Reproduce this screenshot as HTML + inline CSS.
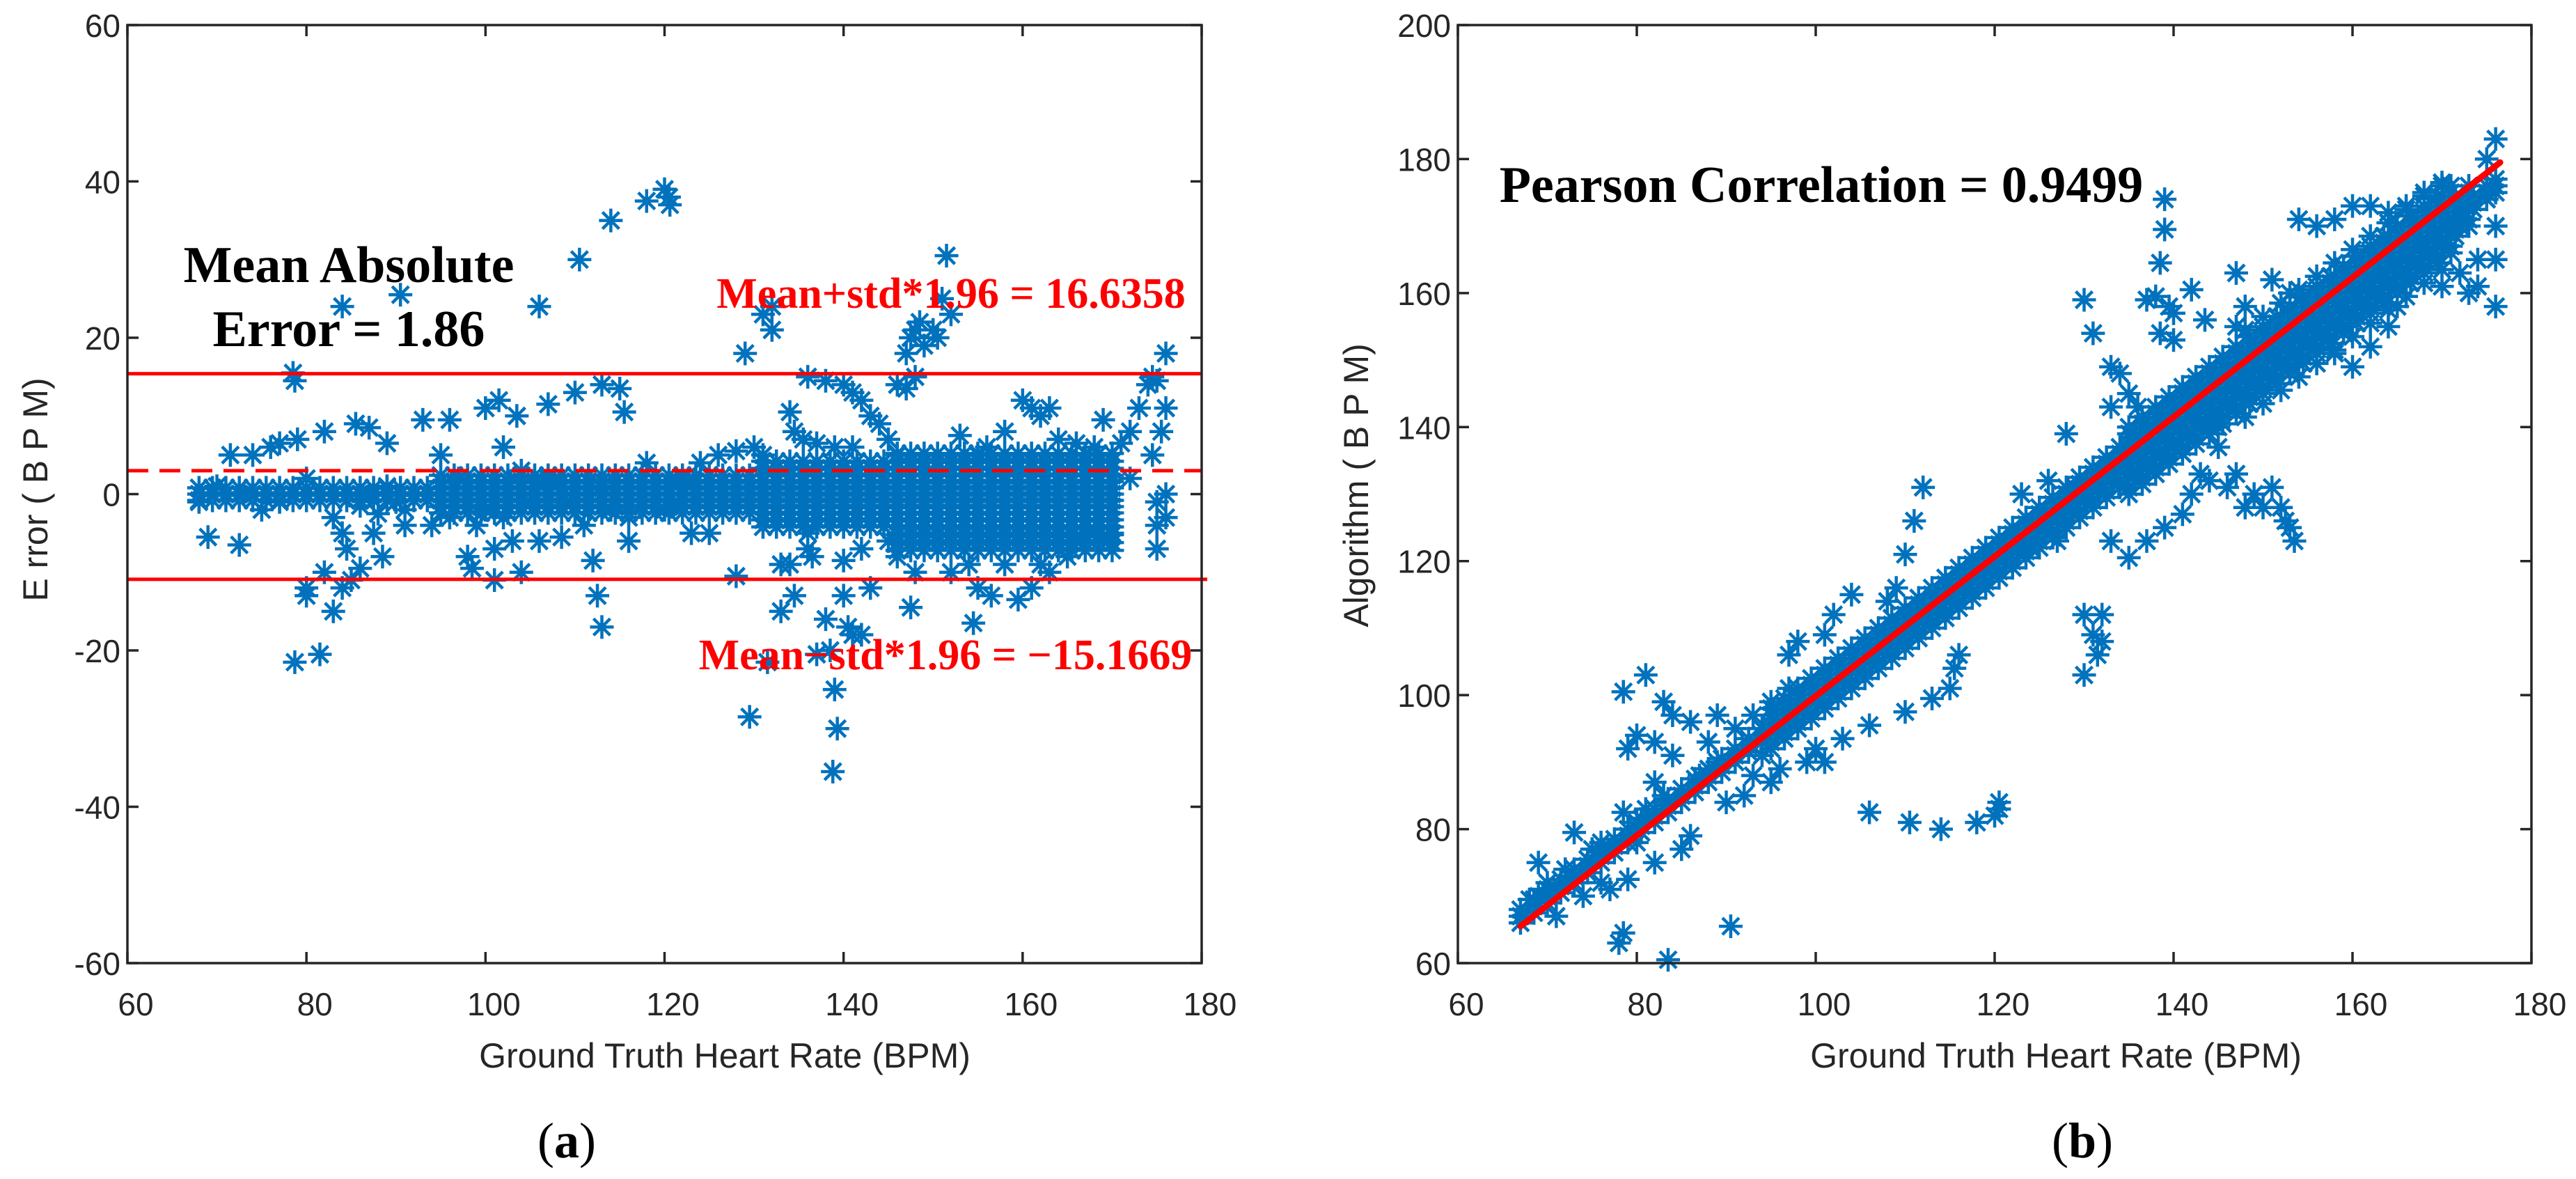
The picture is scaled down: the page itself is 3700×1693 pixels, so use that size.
<!DOCTYPE html>
<html><head><meta charset="utf-8"><style>
html,body{margin:0;padding:0;background:#fff;}
svg{display:block;}
text{font-family:"Liberation Sans",sans-serif;fill:#262626;}
.ann{font-family:"Liberation Serif",serif;font-weight:bold;fill:#000;}
</style></head><body>
<svg id="fig" width="3700" height="1693" viewBox="0 0 3700 1693" xmlns="http://www.w3.org/2000/svg">
<g id="pa"></g>
<g id="pb"></g>
<text x="1041" y="1533" font-size="50" text-anchor="middle">Ground Truth Heart Rate (BPM)</text>
<text x="2953" y="1533" font-size="50" text-anchor="middle">Ground Truth Heart Rate (BPM)</text>
<text transform="translate(68,703) rotate(-90)" font-size="50" text-anchor="middle">E rror ( B P M)</text>
<text transform="translate(1965,697) rotate(-90)" font-size="50" text-anchor="middle">Algorithm ( B P M)</text>
<text x="814" y="1662" font-size="72" text-anchor="middle" class="ann" style="font-weight:normal">(<tspan font-weight="bold">a</tspan>)</text>
<text x="2991" y="1662" font-size="72" text-anchor="middle" class="ann" style="font-weight:normal">(<tspan font-weight="bold">b</tspan>)</text>
<text x="501" y="405" font-size="74" text-anchor="middle" class="ann">Mean Absolute</text>
<text x="501" y="497" font-size="74" text-anchor="middle" class="ann">Error = 1.86</text>
<text x="2616" y="290" font-size="74" text-anchor="middle" class="ann">Pearson Correlation = 0.9499</text>
</svg>
<script>
// ---------- Panel (a) data ----------
const aXTicks = [60,80,100,120,140,160,180];
const aYTicks = [-60,-40,-20,0,20,40,60];
const aUpper = 15.4;
const aMean = 3.0;
const aLower = -10.9;
const aOutX = [120.5,120,120.6,118,114,110.5,106,90.5,84,151.5,151,152,131,132,132,129,78.5,78.7,79,77,76,71.5,74,72.5,69,68,70,73,75,77,80,82,85.5,87,89,93,96,100,101.5,103.5,107,110,113,115,115.5,78.7,81.5,80,80,82,83,84,85,86,83,84,84.5,88.5,87.5,98,98.5,101,101,104,103,106,108.5,111,112,112.5,113,116,123,125,128,129.5,131.5,133,134.5,133,134,136,136,136.5,137,138,138.5,139,139.3,138.8,140,140,140.5,141,142,143,142,145,146,147.5,148,152,154,154.5,156.5,158,159.5,161,162,163,165,155,136,138,140,141,142,143,144,145,146,147,148,147,147.5,148,148.5,149,150,150.5,146,134,134.5,135.5,137,139,141,153,155,156,158,160,161,162,163,164,166,168,169,171,172,173,174,174.5,175,176,176,175.5,174.5,175,175,176,176,175,172,170,168,166,128,130,131,126,122,124,118,116,114,120,121,113,109,104,102,97,95,94,91,92,90,86,87,89,88,91,96,99,100,102,105,107];
const aOutY = [38,39,37,37.5,35,30,24,25.5,24,30.5,25,23,23,24,21,18,15.5,14.5,7,6.5,6,5,5,-6.5,-5.5,-1,1,0,-2,-1,2,8,9,8.5,6.5,9.5,9.5,11,12,10,11.5,13,14,13.5,10.5,-21.5,-20.5,-12,-13,-10,-15,-12,-11,-9.5,-3,-5,-7,-8,-5,-8,-9.5,-11,-7,-10,-6,-6,-5.5,-4,-8.5,-13,-17,-6,-5,-5,-10.5,-28.5,-21.5,-15,-13,-9,-9,-7,-5,-8,-20.5,-16,-20,-25,-30,-35.5,-13,-8.5,-17,-18,-18,-12,-7,-6,-8,-14.5,-10,-10,-9,-16.5,-13,-9,-13.5,-12,-9,-10,-8,-12,15,14.5,14,13,12,10,9,7,14,13.5,15,18,20,21,22,19,21,20,5,10.5,8,7,6.5,6,6,7.5,5,6,8,12,11,10,11,7,6.5,6,9.5,6.5,8,11,14,15,14.5,18,11,8,5,-4,-7,-3,0,-1,2,-5,-5,-6,5.5,6,5,5,2,4,4,-3,-2,-2,-1.5,1,-1,3,6,2,5,-4,-4,0,-1,-1.5,0,1,-2.5,-2,-3,-4,-2,-3,-1,2];
const aListA = [68,69.5,71,72.5,74,75.5,77,78.5,80,81.5,83,84.5,86,87.5,89,90.5,92,93.5,95,96.5,98,99.5,101,102.5,104,105.5,107,108.5,110,111.5,113,114.5,116,117.5,119,120.5,122,123.5,125,126.5,128,129.5,131,132.5,134,135.5,137,138.5,140,141.5,143,144.5,146,147.5,149,150.5,152,153.5,155,156.5,158,159.5,161,162.5,164,165.5,167,168.5,170];
const aListB = [95,96.5,98,99.5,101,102.5,104,105.5,107,108.5,110,111.5,113,114.5,116,117.5,119,120.5,122,123.5,125,126.5,128,129.5,131,132.5,134,135.5,137,138.5,140,141.5,143,144.5,146,147.5,149,150.5,152,153.5,155,156.5,158,159.5,161,162.5,164,165.5,167,168.5,170];
const aListC = [131,132.5,134,135.5,137,138.5,140,141.5,143,144.5,146,147.5,149,150.5,152,153.5,155,156.5,158,159.5,161,162.5,164,165.5,167,168.5,170];
const aListD = [146,147.5,149,150.5,152,153.5,155,156.5,158,159.5,161,162.5,164,165.5,167,168.5,170];
const aBandLists = [aListA,aListA,aListA,aListB,aListB,aListB,aListB,aListC,aListC,aListC,aListC,aListD,aListD,aListD,aListD];
const aBandOff = [0,0.8,-0.8,1.6,-1.6,2.4,-2.4,3.3,-3.3,4.2,-4.2,5.2,-5.2,-6.2,-7.2];

// ---------- Panel (b) data ----------
const bXTicks = [60,80,100,120,140,160,180];
const bYTicks = [60,80,100,120,140,160,180,200];
const fitX = [67,176.5];
const fitY = [65.5,179.5];
const bOutX = [139,139,138.5,138,139.5,140,140,138.5,137,130,131,133,134,142,143.5,128,135,136,133,129,126,123,124,127,133,135,137,139,141,142,143,144,145,145,146,147,148,149,150,151,152,153,153.5,152.5,147,148,147,153,151,154,156,158,160,162,164,166,168,170,172,174,176,175,176,175,176,176,176,174,173,172,170,160,158,162,164,165,112,111,110,109,108,104,102,101,98,97,97,95,93,91,89,88,86,84,83,81,78.5,80,79,82,84,82,83,82,85,86,87,89,90,92,93,94,95,96,99,100,101,103,106,110,113,115,115.5,116,106,110.5,114,118,120,120.5,120.5,130,130,131,131.5,132,132,90.5,83.5,78,78.5,77,79,78.5,80,81,76,75,73,72,71,69,69,68,70,74,76,80];
const bOutY = [174,169.5,164.5,159.5,158,157,153,154,159,159,154,149,148,160.5,156,139,145,143,143,131,132,130,122,123,123,120.5,123,125,127,130,133,132,137,140,131,133,128,130,128,131,128,125,123,126,163,158,155,160,162,171,170,171,173,173,172,173,175,176,170,165,183,180,176,174,170,165,158,161,160,163,161,149,151,152,155,158,131,126,121,116,114,115,112,109,108,106,101,99,97,95,97,93,96,97,99,103,100.5,94,92,93,91,87,85,75,77,79,88,90,84,85,88,91,87,89,90,92,90,93.5,95.5,97.5,99.5,101,104,106,82.5,81,80,81,82,84,83,112,103,109,106,112,108,65.5,60.5,63,64.5,71,72.5,82.5,81,83,78,77,79.5,74,67,75,70,69.5,72,70,72,78];
const bListA = [67,68.5,70,71.5,73,74.5,76,77.5,79,80.5,82,83.5,85,86.5,88,89.5,91,92.5,94,95.5,97,98.5,100,101.5,103,104.5,106,107.5,109,110.5,112,113.5,115,116.5,118,119.5,121,122.5,124,125.5,127,128.5,130,131.5,133,134.5,136,137.5,139,140.5,142,143.5,145,146.5,148,149.5,151,152.5,154,155.5,157,158.5,160,161.5,163,164.5,166,167.5,169,170.5,172,173.5,175,176];
const bListB = [95,96.5,98,99.5,101,102.5,104,105.5,107,108.5,110,111.5,113,114.5,116,117.5,119,120.5,122,123.5,125,126.5,128,129.5,131,132.5,134,135.5,137,138.5,140,141.5,143,144.5,146,147.5,149,150.5,152,153.5,155,156.5,158,159.5,161,162.5,164,165.5,167,168.5,170,171.5,173];
const bListC = [135,136.5,138,139.5,141,142.5,144,145.5,147,148.5,150,151.5,153,154.5,156,157.5,159,160.5,162,163.5,165,166.5,168,169.5,171];
const bListD = [148,150,152,154,156,158,160,162,164,166,168,170];
const bBandLists = [bListA,bListA,bListA,bListB,bListB,bListB,bListB,bListC,bListC,bListC,bListC,bListD,bListD];
const bBandOff = [0,1,-1,2,-2,3,-3,4,-4,5,-5,6.5,-6.5];

const NS = 'http://www.w3.org/2000/svg';
const BLUE = '#0072BD';
function el(tag, attrs, parent){const e=document.createElementNS(NS,tag);for(const k in attrs)e.setAttribute(k,attrs[k]);parent.appendChild(e);return e;}
function starD(cx,cy){const r=17,d=12;return `M${cx-r},${cy}H${cx+r}M${cx},${cy-r}V${cy+r}M${cx-d},${cy-d}L${cx+d},${cy+d}M${cx-d},${cy+d}L${cx+d},${cy-d}`;}

function panel(box, xDom, yDom){
  const sx=v=>box.x0+(v-xDom[0])/(xDom[1]-xDom[0])*(box.x1-box.x0);
  const sy=v=>box.y1-(v-yDom[0])/(yDom[1]-yDom[0])*(box.y1-box.y0);
  return {sx,sy};
}
function axes(g, box, sx, sy, xTicks, yTicks, pfx){
  const frame=el('rect',{x:box.x0,y:box.y0,width:box.x1-box.x0,height:box.y1-box.y0,fill:'none',stroke:'#262626','stroke-width':3.5},g);
  
  
  xTicks.forEach(t=>{
    const x=sx(t);
    const tk=el('path',{d:`M${x},${box.y1}V${box.y1-16}M${x},${box.y0}V${box.y0+16}`,stroke:'#262626','stroke-width':3.5},g);
    
    
    const tx=el('text',{x:x+12,y:box.y1+75,'font-size':46,'text-anchor':'middle'},g);
    tx.textContent=t;
    
    
  });
  yTicks.forEach(t=>{
    const y=sy(t);
    const tk=el('path',{d:`M${box.x0},${y}H${box.x0+16}M${box.x1},${y}H${box.x1-16}`,stroke:'#262626','stroke-width':3.5},g);
    
    
    const tx=el('text',{x:box.x0-10,y:y+17,'font-size':46,'text-anchor':'end'},g);
    tx.textContent=t;
    
    
  });
}
function scatter(g, sx, sy, xs, ys, name){
  let d='';
  for(let i=0;i<xs.length;i++) d+=starD(sx(xs[i]),sy(ys[i]));
  const p=el('path',{d:d,stroke:BLUE,'stroke-width':4.5,fill:'none'},g);
  
  
}

// Panel a
const gA=document.getElementById('pa');
const boxA={x0:183,x1:1726,y0:36,y1:1383};
const A=panel(boxA,[60,180],[-60,60]);
aBandLists.forEach((xs,i)=>scatter(gA,A.sx,A.sy,xs,xs.map(()=>aBandOff[i]),'error-band-points'));
scatter(gA,A.sx,A.sy,aOutX,aOutY,'error-scatter-points');
[[aUpper,'upper-limit-line',null],[aMean,'mean-line','30 16'],[aLower,'lower-limit-line',null]].forEach(([v,n,dash])=>{
  const ln=el('line',{x1:boxA.x0,x2:boxA.x1+(n==='lower-limit-line'?8:0),y1:A.sy(v),y2:A.sy(v),stroke:'#FF0000','stroke-width':5},gA);
  if(dash) ln.setAttribute('stroke-dasharray',dash);
  
  
});
const tU=el('text',{x:1366,y:442,'font-size':62,'text-anchor':'middle',class:'ann',style:'fill:#FF0000'},gA);
tU.textContent='Mean+std*1.96 = 16.6358';


const tL=el('text',{x:1358,y:961,'font-size':62,'text-anchor':'middle',class:'ann',style:'fill:#FF0000'},gA);
tL.textContent='Mean\u2212std*1.96 = \u221215.1669';


axes(gA,boxA,A.sx,A.sy,aXTicks,aYTicks,'a');

// Panel b
const gB=document.getElementById('pb');
const boxB={x0:2094,x1:3636,y0:36,y1:1383};
const B=panel(boxB,[60,180],[60,200]);
bBandLists.forEach((xs,i)=>scatter(gB,B.sx,B.sy,xs,xs.map(x=>x+bBandOff[i]),'algorithm-band-points'));
scatter(gB,B.sx,B.sy,bOutX,bOutY,'algorithm-scatter-points');
const fit=el('line',{x1:B.sx(fitX[0]),y1:B.sy(fitY[0]),x2:B.sx(fitX[1]),y2:B.sy(fitY[1]),stroke:'#FF0000','stroke-width':9,'stroke-linecap':'round'},gB);


axes(gB,boxB,B.sx,B.sy,bXTicks,bYTicks,'b');
</script>
</body></html>
